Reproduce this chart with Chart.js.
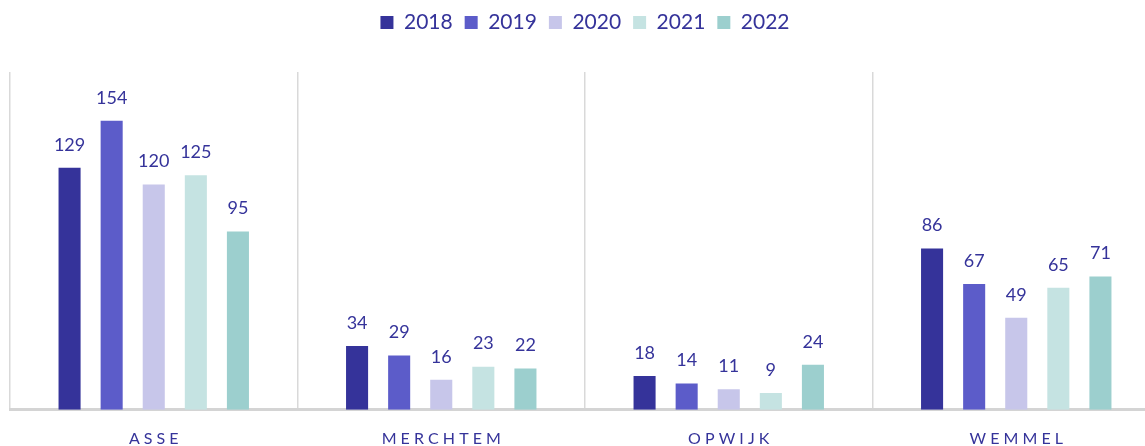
<!DOCTYPE html>
<html>
<head>
<meta charset="utf-8">
<script src="https://cdn.jsdelivr.net/npm/chart.js@4/dist/chart.umd.min.js"></script>
<style>
  html, body { margin: 0; padding: 0; background: #fff; overflow: hidden; }
  #wrap { width: 1160px; height: 467px; }
</style>
</head>
<body>
<div id="wrap"><canvas id="chart"></canvas></div>
<script>
const categories = ["ASSE", "MERCHTEM", "OPWIJK", "WEMMEL"];
const years = ["2018", "2019", "2020", "2021", "2022"];
const v2018 = [129, 34, 18, 86];
const v2019 = [154, 29, 14, 67];
const v2020 = [120, 16, 11, 49];
const v2021 = [125, 23, 9, 65];
const v2022 = [95, 22, 24, 71];
const colors = ["#35339A", "#5C5CC9", "#C7C6EA", "#C5E3E2", "#9CCFCE"];
const TEXT = "#35339A";
const FONT = "Lato, 'Noto Sans', sans-serif";

const series = [v2018, v2019, v2020, v2021, v2022];

// extra room under the legend
const legendGap = {
  id: "legendGap",
  beforeInit(chart) {
    const fit = chart.legend.fit;
    chart.legend.fit = function () {
      fit.call(this);
      this.height += 29;
    };
  }
};

const valueLabels = {
  id: "valueLabels",
  afterDatasetsDraw(chart) {
    const ctx = chart.ctx;
    ctx.save();
    ctx.fillStyle = TEXT;
    ctx.font = "18px " + FONT;
    ctx.textAlign = "center";
    ctx.textBaseline = "middle";
    chart.data.datasets.forEach((ds, i) => {
      chart.getDatasetMeta(i).data.forEach((bar, j) => {
        ctx.fillText(String(ds.data[j]), bar.x, bar.y - 23);
      });
    });
    ctx.restore();
  }
};

new Chart(document.getElementById("chart"), {
  type: "bar",
  data: {
    labels: categories,
    datasets: years.map((y, i) => ({
      label: y,
      data: series[i],
      backgroundColor: colors[i],
      categoryPercentage: 0.732,
      barPercentage: 0.524,
    })),
  },
  options: {
    responsive: true,
    maintainAspectRatio: false,
    animation: false,
    layout: { padding: { left: 10, right: 0, top: 0, bottom: 0 } },
    plugins: {
      legend: {
        position: "top",
        labels: {
          color: TEXT,
          font: { family: FONT, size: 21 },
          boxWidth: 13,
          boxHeight: 13,
          padding: 12,
        },
      },
      tooltip: { enabled: false },
    },
    scales: {
      y: { display: false, min: 0, max: 180 },
      x: {
        grid: { offset: true, color: "#D9D9D9", lineWidth: 1.5, drawTicks: false },
        border: { color: "#D4D4D4", width: 3 },
        ticks: {
          color: TEXT,
          font: { family: FONT, size: 16 },
          padding: 19,
          callback: function (val) { return this.getLabelForValue(val).split("").join(" "); },
        },
      },
    },
  },
  plugins: [valueLabels, legendGap],
});
</script>
</body>
</html>
